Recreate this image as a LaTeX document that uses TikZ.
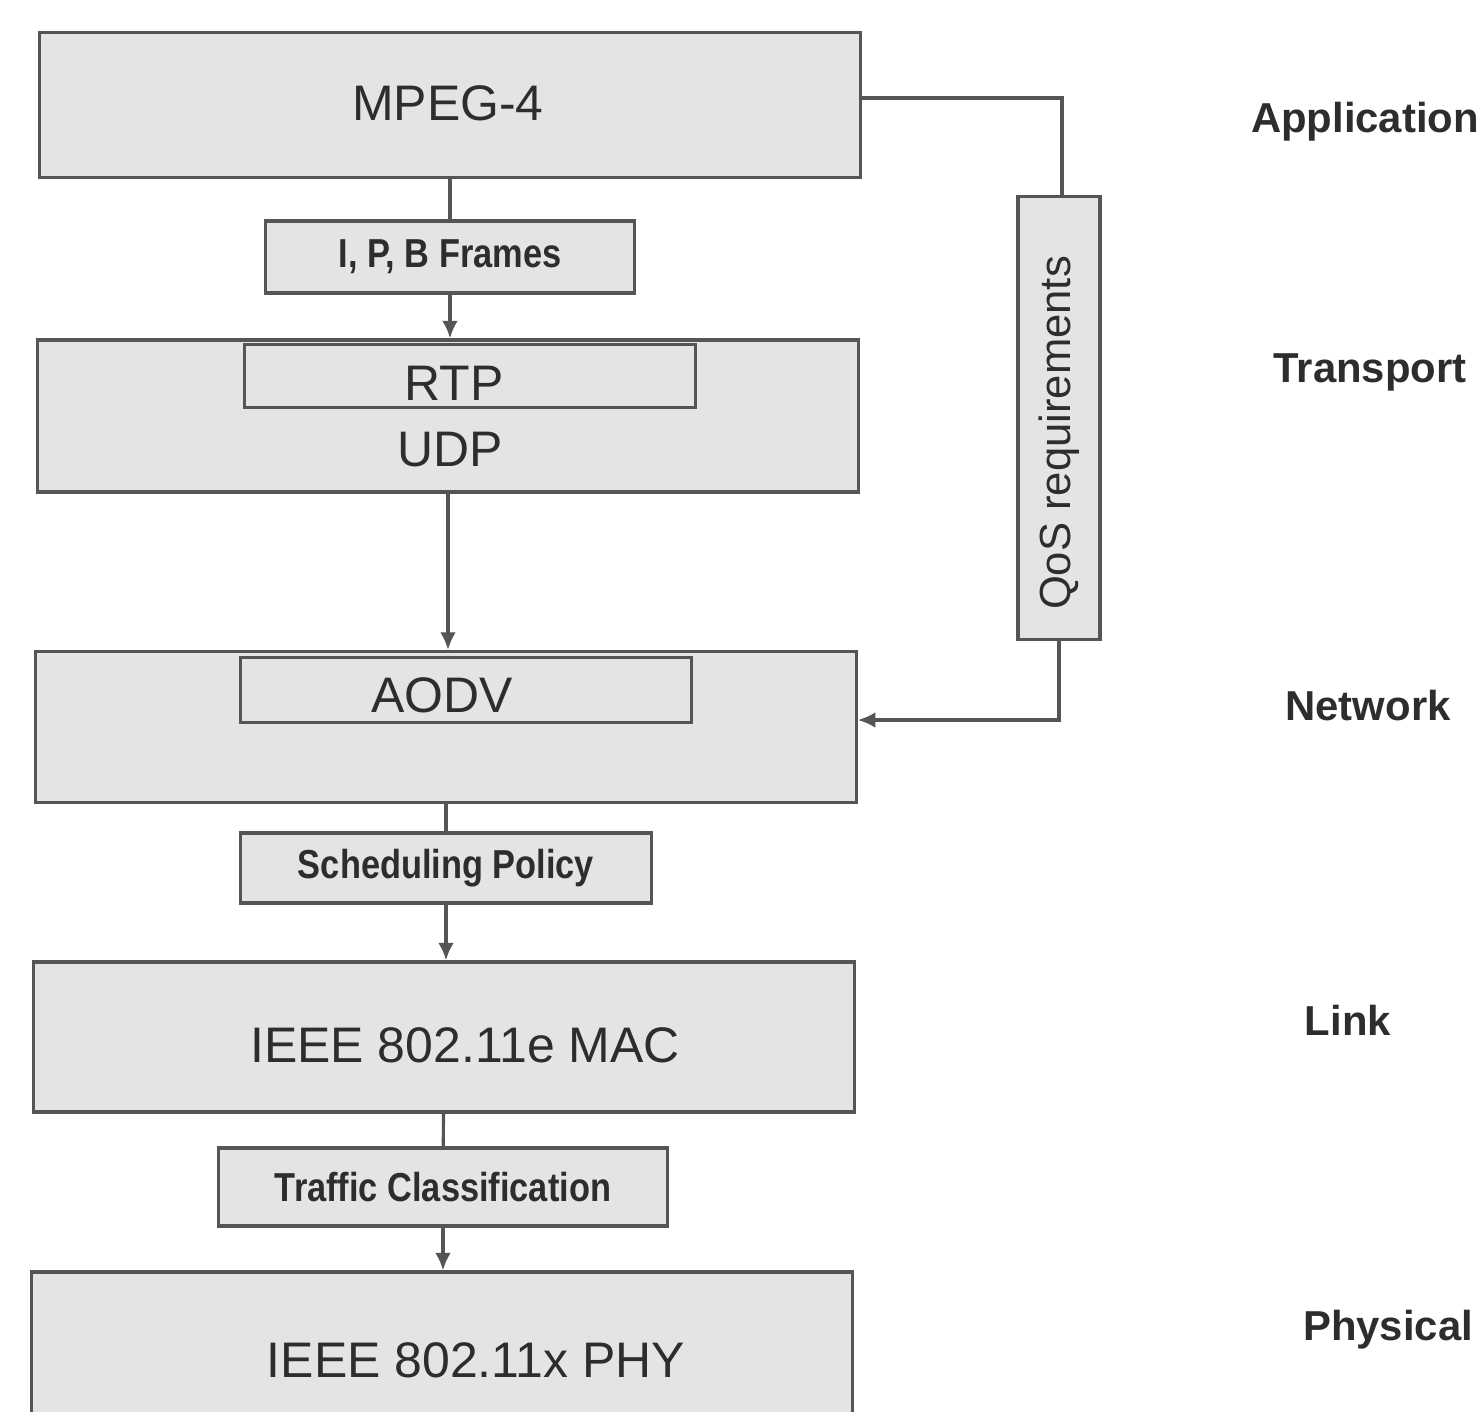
\documentclass[tikz,border=0pt]{standalone}
\usepackage{fontspec}
\setmainfont{Liberation Sans}
\newfontfamily\narrowfont[FakeStretch=0.85]{Liberation Sans}
\usetikzlibrary{arrows.meta}
\definecolor{boxfill}{RGB}{228,228,231}
\definecolor{boxline}{RGB}{85,85,88}
\definecolor{inktext}{RGB}{45,45,48}
\begin{document}
\begin{tikzpicture}[
    x=0.01cm, y=-0.01cm,
    layer/.style={draw=boxline, fill=boxfill, line width=0.9pt, minimum width=8.2cm, minimum height=1.5cm, inner sep=0pt},
    inner/.style={draw=boxline, fill=boxfill, line width=0.9pt, minimum width=4.5cm, minimum height=0.64cm, inner sep=0pt},
    tag/.style={draw=boxline, fill=boxfill, line width=0.9pt, minimum height=0.72cm, inner sep=0pt, font=\narrowfont\bfseries\fontsize{11.5}{13}\selectfont, text=inktext},
    big/.style={font=\fontsize{14.2}{17}\selectfont, text=inktext, inner sep=0pt},
    level/.style={font=\bfseries\fontsize{11.9}{14}\selectfont, text=inktext, inner sep=0pt},
    link/.style={draw=boxline, line width=0.9pt},
    flow/.style={link, -{Latex[length=5pt, width=4.5pt]}}
]
\fill[white] (0,0) rectangle (1484,1411);
\clip (0,0) rectangle (1484,1411);

% === protocol stack ===
\node[layer, minimum height=1.45cm] (mpeg) at (450,105) {};
\node[big] (mpegtxt) at (448,103) {MPEG-4};

\node[tag, minimum width=3.68cm] (frames) at (450,257) {I, P, B Frames};

\node[layer, minimum height=1.52cm] (udp) at (448,416) {};
\node[inner, minimum height=0.63cm] (rtp) at (470,376) {};
\node[big] (rtptxt) at (454,383) {RTP};
\node[big] (udptxt) at (450,450) {UDP};

\node[layer, minimum height=1.51cm] (aodv) at (446,727) {};
\node[inner, minimum height=0.65cm] (aodvin) at (466,690) {};
\node[big] (aodvtxt) at (442,695) {AODV};

\node[tag, minimum width=4.1cm, minimum height=0.7cm] (sched) at (446,868) {Scheduling Policy};

\node[layer] (mac) at (444,1037) {};
\node[big] (mactxt) at (465,1045) {IEEE 802.11e MAC};

\node[tag, minimum width=4.49cm, minimum height=0.78cm] (traffic) at (443,1187) {Traffic Classification};

\node[layer, minimum height=1.76cm] (phy) at (442,1360) {};
\node[big] (phytxt) at (476,1360) {IEEE 802.11x PHY};

% === QoS feedback ===
\node[draw=boxline, fill=boxfill, line width=0.9pt, rotate=90, minimum width=4.43cm, minimum height=0.82cm, inner sep=0pt, font=\fontsize{12.4}{14}\selectfont, text=inktext] (qos) at (1059,418) {QoS requirements\kern0.3cm};

% === connectors ===
\draw[link] (mpeg) -- (frames);
\draw[flow] (frames.south) -- (frames.south |- udp.north);
\draw[flow] (udp.south) -- (udp.south |- aodv.north);
\draw[link] (aodv) -- (sched);
\draw[flow] (sched.south) -- (sched.south |- mac.north);
\draw[link] (mac) -- (traffic);
\draw[flow] (traffic.south) -- (traffic.south |- phy.north);

\draw[link] ([yshift=0.07cm]mpeg.east) -| ([xshift=0.03cm]qos.east);
\draw[flow] (qos.west) |- ([yshift=0.07cm]aodv.east);

% === layer names ===
\node[level] (app) at (1365,122) {Application};
\node[level] (trans) at (1370,372) {Transport};
\node[level] (net) at (1368,706) {Network};
\node[level] (lnk) at (1348,1020) {Link};
\node[level] (phys) at (1388,1330) {Physical};
\end{tikzpicture}
\end{document}
